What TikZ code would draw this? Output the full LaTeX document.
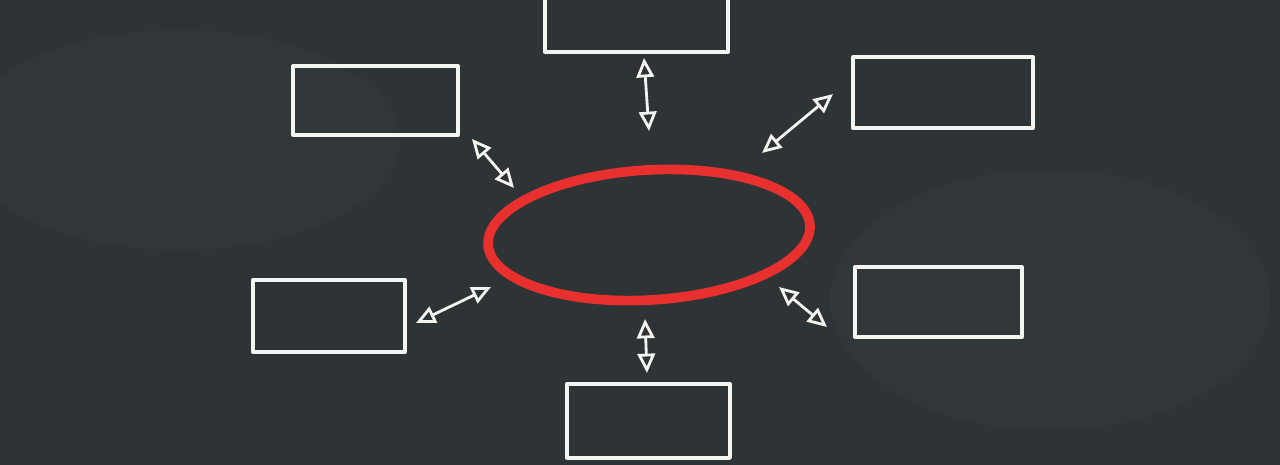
\documentclass[tikz,border=0pt]{standalone}
\usetikzlibrary{arrows.meta,shapes.geometric}
\definecolor{board}{HTML}{2E3336}
\definecolor{boardlight}{HTML}{3A4043}
\definecolor{chalkred}{HTML}{E8302E}
\definecolor{chalk}{HTML}{F4F4F2}
\tikzset{
  chalkbox/.style={draw=chalk, line width=1.9pt, line join=round},
  dbl/.style={draw=chalk, line width=1.6pt, {Triangle[open,length=11pt,width=10pt,line width=1.6pt]}-{Triangle[open,length=11pt,width=10pt,line width=1.6pt]}}
}
\begin{document}
\begin{tikzpicture}[x=0.02cm,y=-0.02cm]
\useasboundingbox (0,0) rectangle (1280,465);
\clip (0,0) rectangle (1280,465);
\fill[board] (0,0) rectangle (1280,465);
\fill[boardlight, opacity=0.3] (1050,300) ellipse [x radius=220, y radius=130];
\fill[boardlight, opacity=0.3] (180,140) ellipse [x radius=220, y radius=110];
% boxes
\draw[chalkbox] (545,-5) coordinate (bt1) rectangle (728,52) coordinate (bt2);
\draw[chalkbox] (293,66) coordinate (btl1) rectangle (458,135) coordinate (btl2);
\draw[chalkbox] (853,57) coordinate (btr1) rectangle (1033,128) coordinate (btr2);
\draw[chalkbox] (253,280) coordinate (bl1) rectangle (405,352) coordinate (bl2);
\draw[chalkbox] (855,267) coordinate (br1) rectangle (1022,337) coordinate (br2);
\draw[chalkbox] (567,384) coordinate (bb1) rectangle (730,458) coordinate (bb2);
% centre ellipse
\node[draw=chalkred, line width=5.5pt, ellipse, inner sep=0pt,
      minimum width=6.45cm, minimum height=2.6cm, rotate=3.5] (c) at (649,235) {};
% arrows
\coordinate (a1s) at (644,58); \coordinate (a1e) at (649,131);
\coordinate (a2s) at (472,139); \coordinate (a2e) at (514,188);
\coordinate (a3s) at (833,94); \coordinate (a3e) at (762,153);
\coordinate (a4s) at (491,287); \coordinate (a4e) at (416,323);
\coordinate (a5s) at (779,287); \coordinate (a5e) at (827,327);
\coordinate (a6s) at (645,319); \coordinate (a6e) at (647,373);
\draw[dbl] (a1s) -- (a1e);
\draw[dbl] (a2s) -- (a2e);
\draw[dbl] (a3s) -- (a3e);
\draw[dbl] (a4s) -- (a4e);
\draw[dbl] (a5s) -- (a5e);
\draw[dbl] (a6s) -- (a6e);
\end{tikzpicture}
\end{document}
